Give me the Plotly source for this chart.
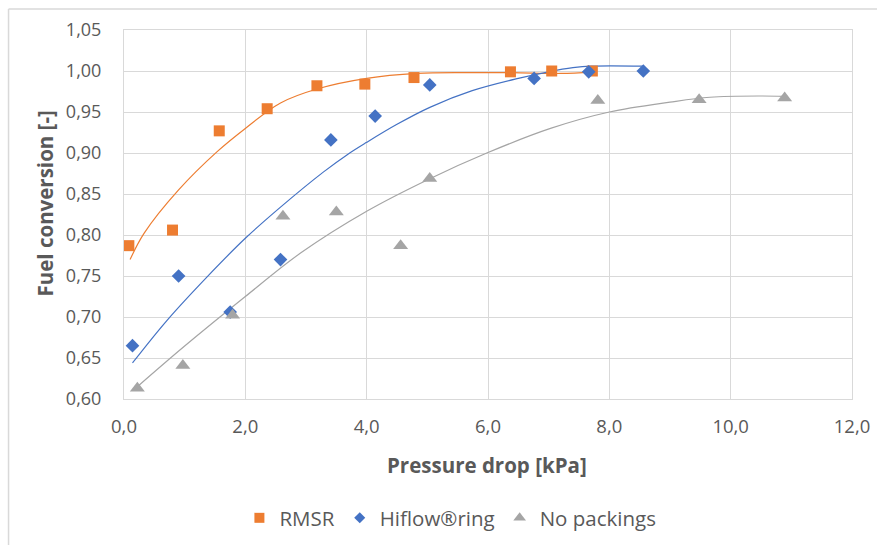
import plotly.graph_objects as go

# ---- data ----
rmsr_x = [0.08, 0.80, 1.57, 2.36, 3.18, 3.97, 4.78, 6.37, 7.05, 7.72]
rmsr_y = [0.787, 0.806, 0.927, 0.954, 0.982, 0.984, 0.992, 0.999, 1.000, 1.000]

hiflow_x = [0.14, 0.90, 1.75, 2.58, 3.41, 4.14, 5.04, 6.76, 7.66, 8.56]
hiflow_y = [0.665, 0.750, 0.706, 0.770, 0.916, 0.945, 0.983, 0.991, 0.999, 1.000]

nopack_x = [0.22, 0.97, 1.79, 2.62, 3.50, 4.56, 5.04, 7.81, 9.48, 10.89]
nopack_y = [0.613, 0.641, 0.702, 0.823, 0.828, 0.787, 0.869, 0.964, 0.965, 0.967]

# trend curves
rmsr_tx = [0.10, 0.33, 0.90, 1.54, 2.00, 2.58, 3.18, 4.00, 4.83, 5.65, 6.40, 7.20, 7.72]
rmsr_ty = [0.770, 0.802, 0.855, 0.902, 0.930, 0.961, 0.978, 0.991, 0.997, 0.998, 0.998, 0.997, 0.999]

hiflow_tx = [0.14, 0.71, 1.37, 2.00, 2.58, 3.29, 3.68, 4.00, 4.50, 5.05, 5.74, 6.50, 7.00, 7.40, 7.70, 8.56]
hiflow_ty = [0.644, 0.696, 0.749, 0.796, 0.834, 0.877, 0.898, 0.913, 0.935, 0.956, 0.976, 0.991, 0.999, 1.004, 1.006, 1.006]

nopack_tx = [0.22, 0.99, 2.00, 2.91, 4.00, 5.05, 5.98, 7.03, 8.00, 9.00, 9.66, 10.49, 10.89]
nopack_ty = [0.615, 0.664, 0.725, 0.778, 0.829, 0.869, 0.900, 0.930, 0.950, 0.962, 0.968, 0.9695, 0.969]

names = ["RMSR", "Hiflow®ring", "No packings"]
colors = ["#ED7D31", "#4472C4", "#A5A5A5"]
symbols = ["square", "diamond", "triangle-up"]
msizes = [11, 10.5, 13]
lsizes = [10, 8.5, 11]

x_ticks = [0, 2, 4, 6, 8, 10, 12]
y_ticks = [0.60, 0.65, 0.70, 0.75, 0.80, 0.85, 0.90, 0.95, 1.00, 1.05]

FONT = "Open Sans"
TXT = "#595959"

fig = go.Figure()

series = [
    (rmsr_x, rmsr_y, rmsr_tx, rmsr_ty),
    (hiflow_x, hiflow_y, hiflow_tx, hiflow_ty),
    (nopack_x, nopack_y, nopack_tx, nopack_ty),
]

for (sx, sy, tx, ty), col in zip(series, colors):
    fig.add_trace(go.Scatter(x=tx, y=ty, mode="lines", line=dict(color=col, width=1.2, shape="spline"),
                             showlegend=False, hoverinfo="skip"))
for (sx, sy, tx, ty), nm, col, sym, ms in zip(series, names, colors, symbols, msizes):
    fig.add_trace(go.Scatter(x=sx, y=sy, mode="markers", name=nm,
                             marker=dict(symbol=sym, size=ms, color=col),
                             showlegend=False))
# legend entries with small symbols
for nm, col, sym, ls in zip(names, colors, symbols, lsizes):
    fig.add_trace(go.Scatter(x=[None], y=[None], mode="markers", name=nm,
                             marker=dict(symbol=sym, size=ls, color=col)))

L, R, T, B = 123.5, 25.3, 30, 146
W, H = 877, 545
pw, ph = W - L - R, H - T - B

def px2paper_x(p):
    return (p - L) / pw

def px2paper_y(p):
    return (H - B - p) / ph

fig.update_layout(
    width=W, height=H,
    margin=dict(l=L, r=R, t=T, b=B, autoexpand=False),
    paper_bgcolor="white", plot_bgcolor="white",
    separators=", ",
    font=dict(family=FONT, size=18, color=TXT),
    showlegend=True,
    legend=dict(orientation="h", x=px2paper_x(450), xanchor="center",
                y=px2paper_y(518), yanchor="middle",
                font=dict(family=FONT, size=20.5, color=TXT),
                itemwidth=30, tracegroupgap=0),
    xaxis=dict(range=[0, 12], tickvals=x_ticks, tickformat=".1f",
               showgrid=True, gridcolor="#D9D9D9", gridwidth=1,
               showline=True, linecolor="#D9D9D9", linewidth=1, mirror=True,
               zeroline=False, ticks="", ticklabelstandoff=11,
               tickfont=dict(family=FONT, size=18.5, color=TXT)),
    yaxis=dict(range=[0.60, 1.05], tickvals=y_ticks, tickformat=".2f",
               showgrid=True, gridcolor="#D9D9D9", gridwidth=1,
               showline=True, linecolor="#D9D9D9", linewidth=1, mirror=True,
               zeroline=False, ticks="", ticklabelstandoff=18,
               tickfont=dict(family=FONT, size=18, color=TXT)),
    annotations=[
        dict(text="<b>Pressure drop [kPa]</b>", xref="paper", yref="paper",
             x=px2paper_x(487), y=px2paper_y(465), xanchor="center", yanchor="middle",
             showarrow=False, font=dict(family=FONT, size=20.5, color=TXT)),
        dict(text="<b>Fuel conversion [-]</b>", xref="paper", yref="paper",
             x=px2paper_x(44), y=px2paper_y(204), xanchor="center", yanchor="middle",
             textangle=-90, showarrow=False, font=dict(family=FONT, size=20.5, color=TXT)),
    ],
    shapes=[
        dict(type="line", xref="paper", yref="paper", x0=px2paper_x(8), x1=px2paper_x(880),
             y0=px2paper_y(9), y1=px2paper_y(9), line=dict(color="#D9D9D9", width=1.5)),
        dict(type="line", xref="paper", yref="paper", x0=px2paper_x(8), x1=px2paper_x(8),
             y0=px2paper_y(9), y1=px2paper_y(550), line=dict(color="#D9D9D9", width=1.5)),
    ],
)

fig.write_html("out.html")
